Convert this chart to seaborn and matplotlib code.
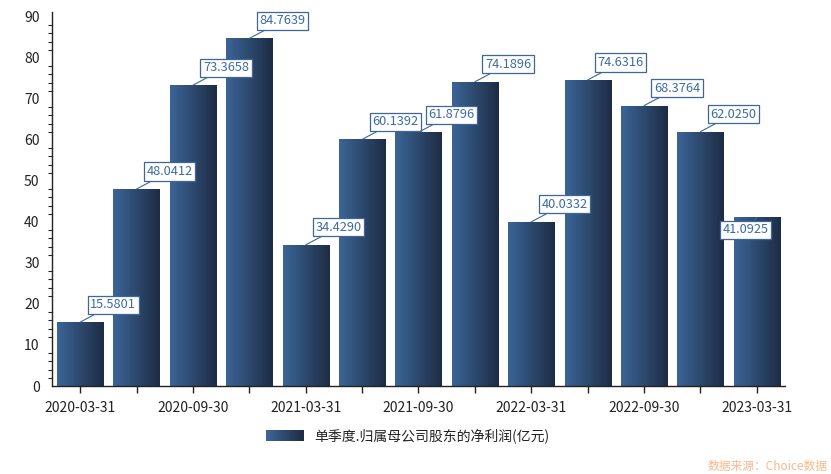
import matplotlib
matplotlib.use("Agg")
import matplotlib.pyplot as plt
import seaborn as sns
import numpy as np
import pandas as pd
from matplotlib.patches import Rectangle
from matplotlib.legend_handler import HandlerBase
from matplotlib.colors import LinearSegmentedColormap

dates = ["2020-03-31", "2020-06-30", "2020-09-30", "2020-12-31",
         "2021-03-31", "2021-06-30", "2021-09-30", "2021-12-31",
         "2022-03-31", "2022-06-30", "2022-09-30", "2022-12-31",
         "2023-03-31"]
values = [15.5801, 48.0412, 73.3658, 84.7639,
          34.4290, 60.1392, 61.8796, 74.1896,
          40.0332, 74.6316, 68.3764, 62.0250,
          41.0925]
series_name = "单季度.归属母公司股东的净利润(亿元)"
source_text = "数据来源：Choice数据"

sns.set_theme(style="white")
plt.rcParams['font.family'] = ['Noto Sans CJK SC', 'DejaVu Sans']

c_left = "#3b6597"
c_right = "#1e2c44"
cmap = LinearSegmentedColormap.from_list("g", [c_left, c_right])

df = pd.DataFrame({"date": dates, "value": values})

fig = plt.figure(figsize=(8.31, 4.74), dpi=100)
ax = fig.add_axes([52/831, 1-386/474, (785-52)/831, (386-12)/474])

sns.barplot(data=df, x="date", y="value", ax=ax, color=c_left, width=0.82,
            edgecolor="none", saturation=1)

grad = np.linspace(0, 1, 256).reshape(1, -1)
for p in ax.patches:
    x0, y0 = p.get_x(), p.get_y()
    w, h = p.get_width(), p.get_height()
    im = ax.imshow(grad, cmap=cmap, aspect="auto", extent=(x0, x0 + w, y0, y0 + h),
                   zorder=p.get_zorder() + 0.1, interpolation="bilinear")
    im.set_clip_path(p)
    p.set_facecolor("none")

ax.set_xlim(-0.5, len(dates) - 0.5)
ax.set_ylim(0, 91.2)
ax.set_yticks(np.arange(0, 91, 10))
ax.set_yticks(np.arange(0, 91, 2), minor=True)
ax.set_xticks(range(len(dates)))
ax.set_xticklabels([d if i % 2 == 0 else "" for i, d in enumerate(dates)])
ax.set_xlabel("")
ax.set_ylabel("")

for s in ["top", "right"]:
    ax.spines[s].set_visible(False)
for s in ["left", "bottom"]:
    ax.spines[s].set_color("#222222")
    ax.spines[s].set_linewidth(1.0)

ax.tick_params(axis="both", which="major", direction="out", length=5, width=1,
               color="#222222", labelsize=10, labelcolor="#222222", pad=4)
ax.tick_params(axis="y", which="minor", direction="out", length=3, width=0.8,
               color="#222222", left=True)
ax.tick_params(axis="x", which="major", bottom=True, length=5)
ax.tick_params(axis="x", pad=6)

label_color = "#3c6aa5"
box_edge = "#3d6699"
for i, v in enumerate(values):
    if i == len(values) - 1:
        off = (-34, -19)
    else:
        off = (10, 11)
    ax.annotate(f"{v:.4f}", xy=(i, v), xytext=off, textcoords="offset pixels",
                ha="left", va="bottom", fontsize=9.2, color=label_color,
                bbox=dict(boxstyle="square,pad=0.2", fc="white", ec=box_edge, lw=0.9),
                arrowprops=dict(arrowstyle="-", color=box_edge, lw=0.8,
                                shrinkA=0, shrinkB=0),
                zorder=5)


class GradientHandler(HandlerBase):
    def create_artists(self, legend, orig_handle, xdescent, ydescent, width,
                       height, fontsize, trans):
        n = 40
        arts = []
        for k in range(n):
            r = Rectangle((-xdescent + width * k / n, -ydescent), width / n + 0.3, height,
                          facecolor=cmap(k / (n - 1)), edgecolor="none",
                          transform=trans)
            arts.append(r)
        return arts


handle = Rectangle((0, 0), 1, 1, facecolor=c_left)
fig.legend([handle], [series_name], handler_map={Rectangle: GradientHandler()},
           loc="center", bbox_to_anchor=(408/831, 1-436/474), frameon=False,
           fontsize=10, handlelength=2.7, handleheight=0.85, handletextpad=0.8,
           labelcolor="#222222")

fig.text(828/831, 1-466/474, source_text, ha="right", va="center",
         fontsize=8.5, color="#f7b98c")

fig.savefig("out.png", dpi=100)
